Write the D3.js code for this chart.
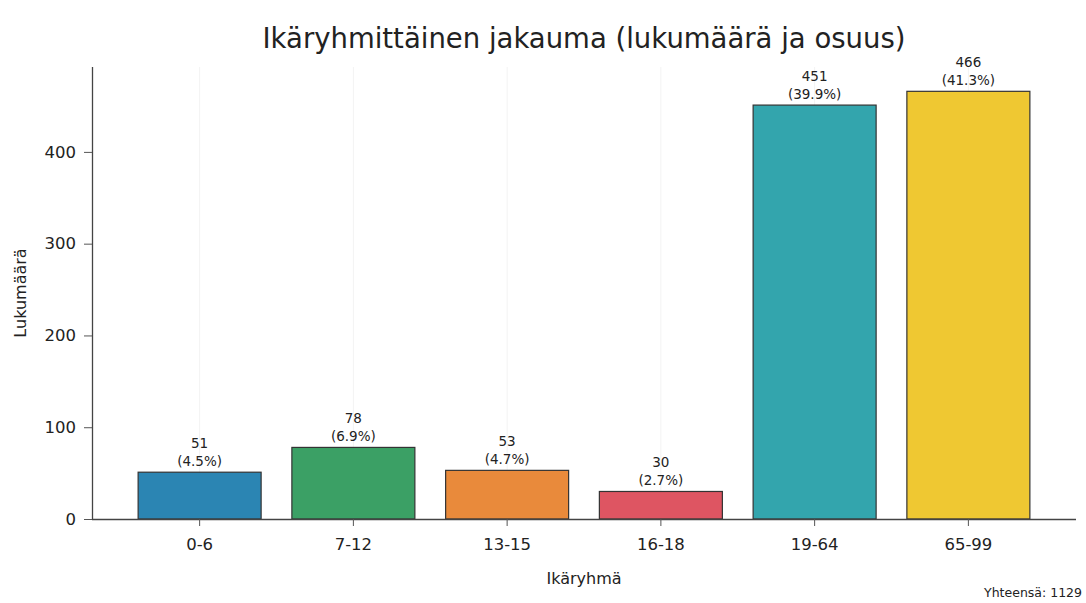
<!DOCTYPE html>
<html>
<head>
<meta charset="utf-8">
<script src="https://cdn.jsdelivr.net/npm/d3@7"></script>
<style>
  body { margin: 0; background: #fff; }
  svg { display: block; font-family: "DejaVu Sans", sans-serif; }
</style>
</head>
<body>
<div id="chart"></div>
<script>
const categories = [`0-6`, `7-12`, `13-15`, `16-18`, `19-64`, `65-99`]
const counts = [51, 78, 53, 30, 451, 466]
const shares = [`4.5%`, `6.9%`, `4.7%`, `2.7%`, `39.9%`, `41.3%`]
const colors = [`#2b85b3`, `#3ba065`, `#e98a3b`, `#de5562`, `#33a5ad`, `#efc832`]
const yTicks = [0, 100, 200, 300, 400]
const total = 1129

const width = 1086,
    height = 603,
    plotLeft = 92,
    plotRight = 1076,
    plotTop = 67,
    plotBottom = 519

const svg = d3.select(`#chart`).append(`svg`).attr(`width`, width).attr(`height`, height)

const x = d3.scaleBand().domain(categories).range([plotLeft, plotRight]).paddingInner(0.2).paddingOuter(0.3)
const y = d3.scaleLinear().domain([0, 492.5]).range([plotBottom, plotTop])

// faint vertical grid at category centers
svg.append(`g`).selectAll(`line`).data(categories).join(`line`)
    .attr(`x1`, d => x(d) + x.bandwidth() / 2).attr(`x2`, d => x(d) + x.bandwidth() / 2)
    .attr(`y1`, plotTop).attr(`y2`, plotBottom)
    .attr(`stroke`, `#f3f3f3`).attr(`stroke-width`, 1)

// bars
svg.append(`g`).selectAll(`rect`).data(counts).join(`rect`)
    .attr(`x`, (d, i) => x(categories[i]))
    .attr(`y`, d => y(d))
    .attr(`width`, x.bandwidth())
    .attr(`height`, d => y(0) - y(d))
    .attr(`fill`, (d, i) => colors[i])
    .attr(`stroke`, `#333`).attr(`stroke-width`, 1.2)

// value labels
const labels = svg.append(`g`).selectAll(`text`).data(counts).join(`text`)
    .attr(`text-anchor`, `middle`)
    .attr(`font-size`, 13.5)
    .attr(`fill`, `#222`)
labels.append(`tspan`)
    .attr(`x`, (d, i) => x(categories[i]) + x.bandwidth() / 2)
    .attr(`y`, d => y(d) - 24)
    .text(d => d)
labels.append(`tspan`)
    .attr(`x`, (d, i) => x(categories[i]) + x.bandwidth() / 2)
    .attr(`y`, d => y(d) - 6)
    .text((d, i) => `(${shares[i]})`)

// axes
const xAxis = svg.append(`g`).attr(`transform`, `translate(0,${plotBottom})`)
    .call(d3.axisBottom(x).tickSize(7).tickPadding(12))
const yAxis = svg.append(`g`).attr(`transform`, `translate(${plotLeft},0)`)
    .call(d3.axisLeft(y).tickValues(yTicks).tickSize(8).tickPadding(8))

for (const g of [xAxis, yAxis]) {
    g.select(`.domain`).attr(`stroke`, `#444`).attr(`stroke-width`, 1.3)
    g.selectAll(`.tick line`).attr(`stroke`, `#555`).attr(`stroke-width`, 1)
    g.selectAll(`.tick text`).attr(`font-size`, 16.5).attr(`fill`, `#222`).attr(`font-family`, `"DejaVu Sans", sans-serif`)
}
xAxis.select(`.domain`).attr(`d`, `M${plotLeft},0.5H${plotRight}`)
yAxis.select(`.domain`).attr(`d`, `M0.5,${plotTop}V${plotBottom}`)

// titles
svg.append(`text`).attr(`x`, (plotLeft + plotRight) / 2).attr(`y`, 48)
    .attr(`text-anchor`, `middle`).attr(`font-size`, 27.5).attr(`fill`, `#222`)
    .text(`Ikäryhmittäinen jakauma (lukumäärä ja osuus)`)

svg.append(`text`).attr(`x`, (plotLeft + plotRight) / 2).attr(`y`, 584)
    .attr(`text-anchor`, `middle`).attr(`font-size`, 16).attr(`fill`, `#222`)
    .text(`Ikäryhmä`)

svg.append(`text`).attr(`transform`, `translate(26,${(plotTop + plotBottom) / 2}) rotate(-90)`)
    .attr(`text-anchor`, `middle`).attr(`font-size`, 16).attr(`fill`, `#222`)
    .text(`Lukumäärä`)

svg.append(`text`).attr(`x`, 1082).attr(`y`, 597)
    .attr(`text-anchor`, `end`).attr(`font-size`, 12.5).attr(`fill`, `#222`)
    .text(`Yhteensä: ${total}`)
</script>
</body>
</html>
